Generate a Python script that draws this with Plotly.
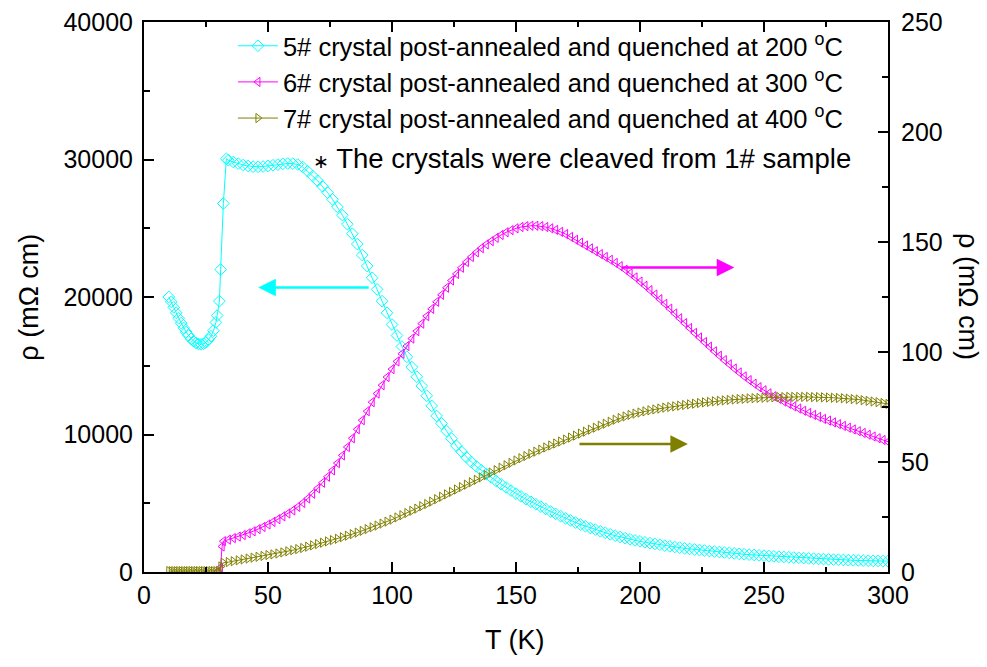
import plotly.graph_objects as go

# ---------------- data ----------------
T_cyan_low = [10, 11, 12, 13, 14, 15, 16, 17, 18, 19, 20, 21, 22, 23, 24, 25, 26, 27,
              28, 29, 29.5, 30.4, 30.9, 32, 33.2]
rho_cyan_low = [20000, 19650, 19250, 18850, 18450, 18100, 17750, 17450, 17200, 16950,
                16780, 16650, 16580, 16560, 16600, 16700, 16900, 17150,
                17550, 18150, 18650, 19700, 22000, 26800, 30050]

T_mag_low = [30, 30.8, 31.5, 32]
rho_mag_low = [0.3, 2.0, 11.6, 14.0]

T_olive_low = [10, 11, 12, 13, 14, 15, 16, 17, 18, 19, 20, 21, 22, 23, 24, 25, 26, 27,
               28, 29, 30, 31, 32]
rho_olive_low = [0.4, 0.4, 0.4, 0.4, 0.4, 0.4, 0.4, 0.4, 0.4, 0.4, 0.4, 0.4, 0.4, 0.4,
                 0.4, 0.4, 0.4, 0.4, 0.4, 0.4, 0.5, 2.5, 4.2]

T_grid = [34, 36, 38, 40, 42, 44, 46, 48, 50, 52,
          54, 56, 58, 60, 62, 64, 66, 68, 70, 72,
          74, 76, 78, 80, 82, 84, 86, 88, 90, 92,
          94, 96, 98, 100, 102, 104, 106, 108, 110, 112,
          114, 116, 118, 120, 122, 124, 126, 128, 130, 132,
          134, 136, 138, 140, 142, 144, 146, 148, 150, 152,
          154, 156, 158, 160, 162, 164, 166, 168, 170, 172,
          174, 176, 178, 180, 182, 184, 186, 188, 190, 192,
          194, 196, 198, 200, 202, 204, 206, 208, 210, 212,
          214, 216, 218, 220, 222, 224, 226, 228, 230, 232,
          234, 236, 238, 240, 242, 244, 246, 248, 250, 252,
          254, 256, 258, 260, 262, 264, 266, 268, 270, 272,
          274, 276, 278, 280, 282, 284, 286, 288, 290, 292,
          294, 296, 298, 300]

rho_cyan = [29950, 29820, 29700, 29600, 29530, 29480, 29470, 29490, 29530, 29580,
            29630, 29680, 29710, 29700, 29640, 29450, 29150, 28800, 28450, 28050,
            27600, 27100, 26550, 25950, 25300, 24600, 23850, 23050, 22250, 21400,
            20550, 19700, 18850, 18000, 17200, 16400, 15650, 14900, 14200, 13530,
            12820, 12080, 11350, 10800, 10250, 9700, 9170, 8750, 8350, 8000,
            7680, 7400, 7130, 6880, 6620, 6380, 6150, 5920, 5700, 5500,
            5300, 5110, 4930, 4750, 4580, 4400, 4230, 4060, 3900, 3750,
            3600, 3460, 3330, 3200, 3080, 2960, 2850, 2740, 2640, 2550,
            2460, 2380, 2300, 2230, 2160, 2100, 2040, 1980, 1920, 1870,
            1820, 1770, 1720, 1680, 1640, 1600, 1560, 1520, 1490, 1450,
            1420, 1390, 1350, 1320, 1290, 1260, 1240, 1210, 1190, 1160,
            1140, 1110, 1090, 1070, 1050, 1030, 1010, 990, 970, 950,
            940, 920, 900, 890, 880, 860, 850, 840, 830, 820,
            810, 800, 795, 790]

rho_mag = [14.7, 15.4, 16.1, 16.8, 17.6, 18.5, 19.5, 20.5, 21.6, 22.8,
           24.0, 25.3, 26.6, 28.0, 29.6, 31.4, 33.4, 35.6, 38.0, 40.6,
           43.3, 46.2, 49.5, 53.0, 56.8, 60.8, 64.9, 69.0, 73.1, 77.2,
           81.1, 84.9, 88.6, 92.2, 95.7, 99.2, 102.7, 106.1, 109.5, 112.9,
           116.3, 119.6, 122.8, 126.0, 129.2, 132.5, 135.5, 138.3, 140.9, 143.2,
           145.3, 147.2, 148.9, 150.4, 151.9, 153.2, 154.4, 155.4, 156.2, 156.8,
           157.2, 157.4, 157.4, 157.2, 156.8, 156.2, 155.5, 154.6, 153.6, 152.3,
           151.0, 149.7, 148.4, 147.1, 145.8, 144.5, 143.2, 141.9, 140.5, 139.0,
           137.4, 135.7, 133.9, 132.0, 130.1, 128.1, 126.1, 124.0, 121.9, 119.7,
           117.5, 115.3, 113.1, 110.9, 108.7, 106.6, 104.5, 102.4, 100.3, 98.3,
           96.3, 94.4, 92.5, 90.7, 88.9, 87.2, 85.6, 84.0, 82.6, 81.2,
           79.9, 78.7, 77.5, 76.4, 75.3, 74.3, 73.3, 72.3, 71.4, 70.5,
           69.6, 68.8, 68.0, 67.2, 66.4, 65.6, 64.8, 64.0, 63.2, 62.4,
           61.6, 60.8, 60.0, 59.2]

rho_olive = [4.5, 4.9, 5.3, 5.7, 6.1, 6.5, 6.9, 7.3, 7.7, 8.0,
             8.4, 8.9, 9.4, 9.9, 10.4, 10.9, 11.5, 12.1, 12.7, 13.3,
             13.9, 14.5, 15.1, 15.8, 16.5, 17.2, 17.9, 18.7, 19.5, 20.3,
             21.1, 22.0, 22.9, 23.8, 24.8, 25.8, 26.8, 27.8, 28.8, 29.9,
             30.9, 32.0, 33.1, 34.2, 35.3, 36.4, 37.5, 38.6, 39.7, 40.8,
             41.9, 43.0, 44.1, 45.2, 46.3, 47.4, 48.5, 49.6, 50.7, 51.7,
             52.7, 53.7, 54.7, 55.6, 56.6, 57.5, 58.4, 59.3, 60.2, 61.1,
             62.0, 62.9, 63.8, 64.7, 65.6, 66.5, 67.4, 68.3, 69.2, 70.0,
             70.7, 71.4, 72.0, 72.5, 73.0, 73.5, 73.9, 74.3, 74.7, 75.0,
             75.3, 75.6, 75.9, 76.2, 76.5, 76.8, 77.1, 77.3, 77.6, 77.8,
             78.0, 78.2, 78.4, 78.6, 78.7, 78.9, 79.0, 79.1, 79.2, 79.3,
             79.4, 79.5, 79.5, 79.6, 79.6, 79.6, 79.6, 79.6, 79.5, 79.5,
             79.4, 79.3, 79.2, 79.1, 79.0, 78.8, 78.6, 78.4, 78.1, 77.8,
             77.5, 77.2, 76.8, 76.4]

names = ["5# crystal post-annealed and quenched at 200 <sup>o</sup>C",
         "6# crystal post-annealed and quenched at 300 <sup>o</sup>C",
         "7# crystal post-annealed and quenched at 400 <sup>o</sup>C"]
note_text = "<span style='font-size:19px'>\u2217</span> The crystals were cleaved from 1# sample"

# arrows: (tail T, head T, rho level)
arrow_cyan = (91.2, 46.1, 20700)
arrow_mag = (192.0, 238.0, 138.4)
arrow_olive = (175.0, 219.3, 58.2)

# ---------------- figure ----------------
CYAN = "#00FFFF"
MAG = "#FF00FF"
OLIVE = "#808000"
FONT = "Liberation Sans, Arial, sans-serif"

fig = go.Figure()
fig.add_trace(go.Scatter(
    x=T_cyan_low + T_grid, y=rho_cyan_low + rho_cyan, name=names[0],
    mode="lines+markers", yaxis="y",
    line=dict(color=CYAN, width=1),
    marker=dict(symbol="diamond-open", size=9, color=CYAN, line=dict(width=1))))
fig.add_trace(go.Scatter(
    x=T_mag_low + T_grid, y=rho_mag_low + rho_mag, name=names[1],
    mode="lines+markers", yaxis="y2",
    line=dict(color=MAG, width=1),
    marker=dict(symbol="triangle-left-open", size=8, color=MAG, line=dict(width=1))))
fig.add_trace(go.Scatter(
    x=T_olive_low + T_grid, y=rho_olive_low + rho_olive, name=names[2],
    mode="lines+markers", yaxis="y2",
    line=dict(color=OLIVE, width=1),
    marker=dict(symbol="triangle-right-open", size=8, color=OLIVE, line=dict(width=1))))

axis_common = dict(showgrid=False, zeroline=False, showline=True, linecolor="black",
                   linewidth=2, ticks="inside", ticklen=10, tickwidth=2,
                   tickcolor="black", automargin=False,
                   tickfont=dict(size=25, color="black", family=FONT))

fig.update_layout(
    width=987, height=667,
    margin=dict(l=144, r=99, t=22, b=95, pad=0, autoexpand=False),
    paper_bgcolor="white", plot_bgcolor="white",
    font=dict(family=FONT, color="black"),
    showlegend=True,
    legend=dict(xref="container", yref="container", x=0.236, y=0.966,
                xanchor="left", yanchor="top",
                bgcolor="rgba(0,0,0,0)", font=dict(size=25.5, family=FONT),
                itemwidth=40),
    xaxis=dict(range=[0, 300], tickvals=[0, 50, 100, 150, 200, 250, 300],
               minor=dict(tickvals=[25, 75, 125, 175, 225, 275], ticklen=5,
                          tickwidth=2, tickcolor="black", ticks="inside"),
               mirror="ticks", ticklabelstandoff=0, **axis_common),
    yaxis=dict(range=[0, 40000], tickvals=[0, 10000, 20000, 30000, 40000],
               tickformat="d",
               minor=dict(tickvals=[5000, 15000, 25000, 35000], ticklen=6,
                          tickwidth=2, tickcolor="black", ticks="inside"),
               ticklabelstandoff=4, **axis_common),
    yaxis2=dict(range=[0, 250], overlaying="y", side="right",
                tickvals=[0, 50, 100, 150, 200, 250],
                minor=dict(tickvals=[25, 75, 125, 175, 225], ticklen=6,
                           tickwidth=2, tickcolor="black", ticks="inside"),
                ticklabelstandoff=6, **axis_common),
)

annos = []
for (tail, head, lev), col, yr in [(arrow_cyan, CYAN, "y"), (arrow_mag, MAG, "y2"),
                                   (arrow_olive, OLIVE, "y2")]:
    annos.append(dict(x=head, y=lev, ax=tail, ay=lev, xref="x", yref=yr,
                      axref="x", ayref=yr, showarrow=True, arrowhead=2,
                      arrowsize=1.4, arrowwidth=2.5, arrowcolor=col, text=""))

annos.append(dict(text=note_text, x=0.953, y=0.751, xref="paper", yref="paper",
                  xanchor="right", yanchor="middle", showarrow=False,
                  font=dict(size=27.5, family=FONT, color="black")))
annos.append(dict(text="T (K)", x=0.499, y=-0.123, xref="paper", yref="paper",
                  xanchor="center", yanchor="middle", showarrow=False,
                  font=dict(size=27, family=FONT, color="black")))
annos.append(dict(text="\u03c1 (m\u03a9 cm)", x=-0.155, y=0.5, xref="paper", yref="paper",
                  xanchor="center", yanchor="middle", showarrow=False, textangle=-90,
                  font=dict(size=27, family=FONT, color="black")))
annos.append(dict(text="\u03c1 (m\u03a9 cm)", x=1.1075, y=0.5, xref="paper", yref="paper",
                  xanchor="center", yanchor="middle", showarrow=False, textangle=90,
                  font=dict(size=27, family=FONT, color="black")))
fig.update_layout(annotations=annos)

fig.write_html("out.html")
